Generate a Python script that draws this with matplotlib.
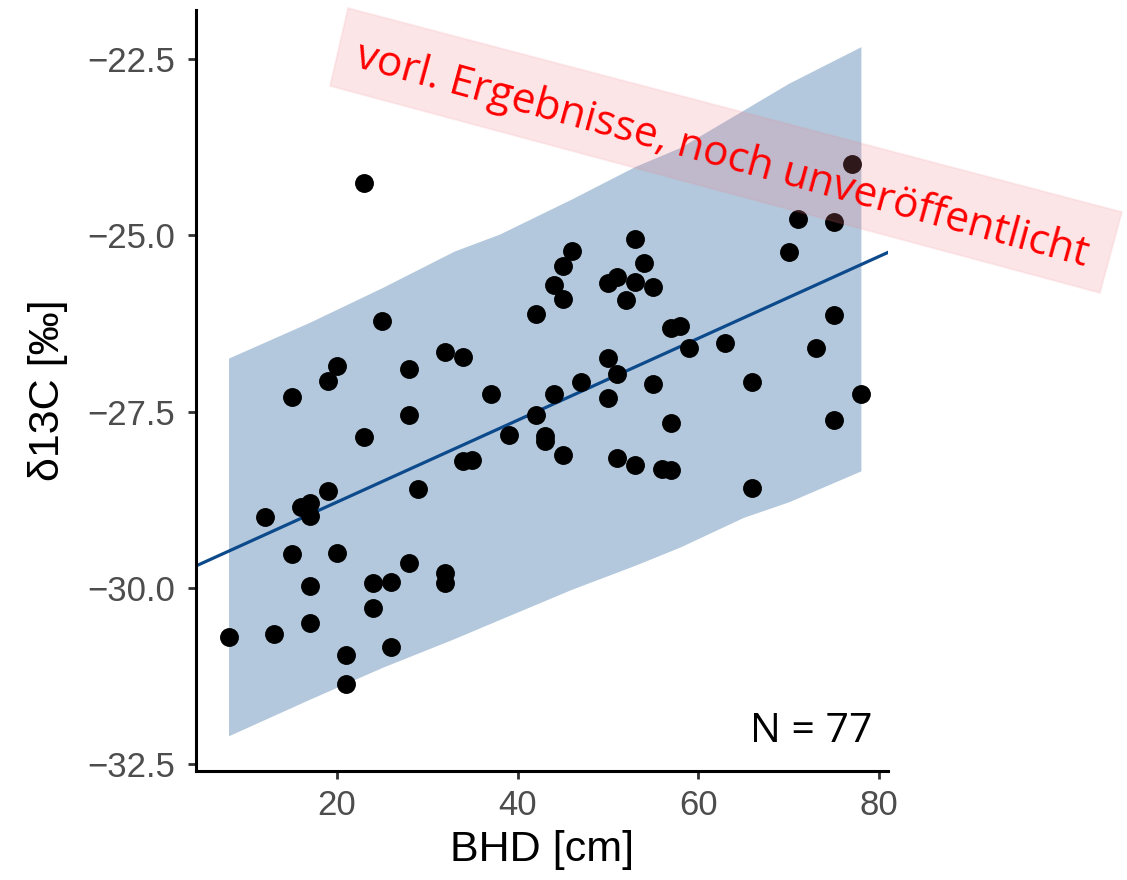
import matplotlib
matplotlib.use('Agg')
import matplotlib.pyplot as plt
from matplotlib.patches import Polygon
import numpy as np

# BHD [cm] and delta 13C [permil]
bhd = [8, 12, 13, 15, 15, 16, 17, 17, 17, 17,
       19, 19, 20, 20, 21, 21, 23, 23, 24, 24,
       25, 26, 26, 28, 28, 28, 29, 32, 32, 32,
       34, 34, 35, 37, 39, 42, 42, 43, 43, 44,
       44, 45, 45, 45, 46, 47, 50, 50, 50, 51,
       51, 51, 52, 53, 53, 53, 54, 55, 55, 56,
       57, 57, 57, 58, 59, 63, 66, 66, 70, 71,
       73, 75, 75, 75, 77, 78]
d13c = [-30.70, -28.99, -30.66, -27.29, -29.52, -28.85, -28.80, -28.98, -29.98, -30.50,
        -28.63, -27.07, -26.85, -29.50, -30.95, -31.37, -24.26, -27.86, -29.93, -30.29,
        -26.22, -29.92, -30.84, -26.90, -27.55, -29.65, -28.60, -26.66, -29.79, -29.93,
        -28.20, -26.73, -28.19, -27.25, -27.83, -26.12, -27.55, -27.85, -27.92, -25.70,
        -27.25, -25.44, -25.90, -28.12, -25.22, -27.08, -25.68, -26.74, -27.30, -25.59,
        -26.97, -28.16, -25.92, -25.05, -25.66, -28.26, -25.39, -25.73, -27.11, -28.32,
        -26.32, -27.66, -28.33, -26.29, -26.60, -26.53, -27.08, -28.59, -25.24, -24.77,
        -26.60, -24.81, -26.13, -27.62, -23.98, -27.25]

# prediction band (upper / lower edge)
band_x = [8, 17, 25, 33, 38, 46, 53, 58, 65, 70, 78]
band_hi = [-26.74, -26.23, -25.74, -25.22, -24.98, -24.48, -24.02, -23.75, -23.22, -22.84, -22.32]
band_lo = [-32.10, -31.58, -31.13, -30.72, -30.45, -30.02, -29.68, -29.42, -29.00, -28.78, -28.34]

# regression line
fit_x = [4.4, 81.0]
fit_y = [-29.69, -25.24]

n_text = 'N = 77'
watermark = 'vorl. Ergebnisse, noch unveröffentlicht'

W, H = 1127, 880
fig = plt.figure(figsize=(W / 100, H / 100), dpi=100)
ax = fig.add_axes([196 / W, 1 - 771 / H, (888 - 196) / W, (771 - 10) / H])

ax.fill_between(band_x, band_lo, band_hi, color='#b3c8dc', lw=0, zorder=1)
ax.plot(fit_x, fit_y, color='#0d4a8c', lw=2.3, zorder=2)
ax.scatter(bhd, d13c, s=185, color='black', lw=0, zorder=3)

ax.set_xlim(4.4, 81.0)
ax.set_ylim(-32.6, -21.8)
ax.set_xticks([20, 40, 60, 80])
ax.set_yticks([-22.5, -25.0, -27.5, -30.0, -32.5])
ax.set_yticklabels(['\u221222.5', '\u221225.0', '\u221227.5', '\u221230.0', '\u221232.5'])

for side in ['top', 'right']:
    ax.spines[side].set_visible(False)
for side in ['left', 'bottom']:
    ax.spines[side].set_linewidth(2.2)
    ax.spines[side].set_color('black')

ax.tick_params(length=6, width=2, color='#333333', labelcolor='#4d4d4d',
               labelsize=25)
ax.tick_params(axis='x', pad=7)
ax.tick_params(axis='y', pad=9)
for lab in ax.get_xticklabels() + ax.get_yticklabels():
    lab.set_family('Liberation Sans')

ax.set_xlabel('BHD [cm]', fontsize=31, family='Liberation Sans', labelpad=6)
ax.set_ylabel('\u03b413C [\u2030]', fontsize=31, family='Liberation Sans', labelpad=14)

ax.text(872 / W, 1 - 742 / H, n_text, transform=fig.transFigure, ha='right',
        va='baseline', fontsize=29.5, family='Open Sans', color='black')

# pink stamp on top
corners = [(348, 8), (1122, 212), (1100, 293), (330, 86)]
poly = Polygon([(x / W, 1 - y / H) for x, y in corners], closed=True,
               transform=fig.transFigure, facecolor=(0.94, 0.49, 0.53, 0.2),
               edgecolor=(0.94, 0.49, 0.53, 0.1), lw=1.5, zorder=10)
fig.patches.append(poly)
fig.text(722 / W, 1 - 155 / H, watermark, rotation=-15.3, rotation_mode='anchor',
         ha='center', va='center', fontsize=30.5, family='Open Sans', color='red',
         zorder=11)

fig.savefig('out.png', dpi=100)
